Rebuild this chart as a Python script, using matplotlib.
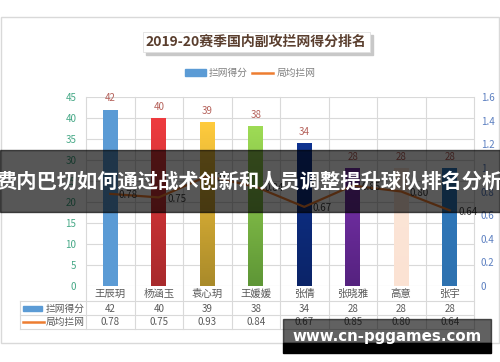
import numpy as np
import matplotlib
matplotlib.use("Agg")
import matplotlib.pyplot as plt
from matplotlib.patches import Rectangle, Patch
from matplotlib.lines import Line2D
from matplotlib.colors import LinearSegmentedColormap

plt.rcParams['font.family'] = ['Noto Sans CJK SC', 'DejaVu Sans']

# Data
players = ["王辰玥", "杨涵玉", "袁心玥", "王媛媛", "张倩", "张晓雅", "高意", "张宇"]
block_points = [42, 40, 39, 38, 34, 28, 28, 28]
block_avg = [0.78, 0.75, 0.93, 0.84, 0.67, 0.85, 0.80, 0.64]
avg_labels = ["0.78", "0.75", "0.93", "0.84", "0.67", "0.85", "0.80", "0.64"]
left_ticks = list(range(0, 50, 5))
right_ticks = [0, 0.2, 0.4, 0.6, 0.8, 1.0, 1.2, 1.4, 1.6]
right_tick_labels = ["0", "0.2", "0.4", "0.6", "0.8", "1", "1.2", "1.4", "1.6"]

# bar colours (top, bottom) for the gradient fill
bar_top = ["#5B9BD5", "#EE3B3F", "#FFCB3D", "#9EDB55", "#0F3390", "#7A32AE", "#FCE6D8", "#2E78BC"]
bar_bot = ["#5B9BD5", "#A82A2C", "#A98A2A", "#5E9636", "#0B2468", "#55227F", "#FBE2D3", "#2E72B0"]

W, H = 500, 362
fig = plt.figure(figsize=(5, 3.62), dpi=100)


def fx(x):
    return x / W


def fy(y):
    return 1 - y / H


# outer frame
fig.add_artist(Rectangle((fx(1), fy(343)), fx(498), 326 / H, fill=False,
                         ec="#D9D9D9", lw=1.0, zorder=0))

ax = fig.add_axes([fx(86), fy(286), 388 / W, 189 / H])
x = np.arange(len(players))

bars = ax.bar(x, block_points, width=0.30, color="none", zorder=2)
for i, b in enumerate(bars):
    cmap = LinearSegmentedColormap.from_list("g", [bar_bot[i], bar_top[i]])
    grad = np.linspace(0, 1, 100).reshape(-1, 1)
    im = ax.imshow(grad, cmap=cmap, origin="lower", aspect="auto",
                   extent=[b.get_x(), b.get_x() + b.get_width(), 0, b.get_height()],
                   zorder=2)
    im.set_clip_path(b)
    ax.annotate(str(block_points[i]), (b.get_x() + b.get_width() / 2, b.get_height()),
                xytext=(0, 8), textcoords="offset points", ha="center", va="center",
                fontsize=7, color="#B5615A")

ax.set_xlim(-0.5, len(players) - 0.5)
ax.set_ylim(0, 45)
ax.set_yticks(left_ticks)
ax.tick_params(axis="y", length=0, labelsize=7, labelcolor="#45A886", pad=7)
ax.set_xticks([])
ax.yaxis.grid(True, color="#D9D9D9", lw=0.8)
ax.set_axisbelow(True)
for s in ax.spines.values():
    s.set_visible(False)

# table grid lines
tx = ax.get_xaxis_transform()
t_bottom = (286 - 329) / 189
row_lines = [(286 - 301) / 189, (286 - 315) / 189, t_bottom]
for b in np.arange(-0.5, len(players), 1.0):
    ax.plot([b, b], [1, t_bottom], transform=tx, color="#D9D9D9", lw=0.8, clip_on=False, zorder=1)
left_edge = (20 - 86) / 388
for yl in row_lines:
    ax.plot([left_edge, 1], [yl, yl], transform=ax.transAxes, color="#D9D9D9", lw=0.8, clip_on=False)
ax.plot([left_edge, left_edge], [row_lines[0], t_bottom], transform=ax.transAxes,
        color="#D9D9D9", lw=0.8, clip_on=False)

cat_y = (286 - 294) / 189
row1_y = (286 - 308.5) / 189
row2_y = (286 - 322) / 189
for i, p in enumerate(players):
    ax.text(i, cat_y, p, transform=tx, ha="center", va="center", fontsize=7.5, color="#595959")
    ax.text(i, row1_y, str(block_points[i]), transform=tx, ha="center", va="center", fontsize=7, color="#595959")
    ax.text(i, row2_y, avg_labels[i], transform=tx, ha="center", va="center", fontsize=7, color="#595959")

# table row keys
ax.add_patch(Rectangle(((23 - 86) / 388, row1_y - 0.014), 19 / 388, 0.028, transform=ax.transAxes,
                       color="#5B9BD5", clip_on=False))
ax.plot([(23 - 86) / 388, (44 - 86) / 388], [row2_y, row2_y], transform=ax.transAxes,
        color="#ED7D31", lw=1.8, clip_on=False)
ax.text((46 - 86) / 388, row1_y, "拦网得分", transform=ax.transAxes, ha="left", va="center",
        fontsize=7, color="#595959")
ax.text((46 - 86) / 388, row2_y, "局均拦网", transform=ax.transAxes, ha="left", va="center",
        fontsize=7, color="#595959")

# secondary axis line
ax2 = ax.twinx()
ax2.plot(x, block_avg, color="#ED7D31", lw=1.6, zorder=3)
for i, v in enumerate(block_avg):
    ax2.annotate(avg_labels[i], (i, v), xytext=(6, -1), textcoords="offset points",
                 ha="left", va="center", fontsize=7, color="#404040")
ax2.set_ylim(0, 1.6)
ax2.set_yticks(right_ticks)
ax2.set_yticklabels(right_tick_labels)
ax2.tick_params(axis="y", length=0, labelsize=7, labelcolor="#5B7FC0", pad=5)
for s in ax2.spines.values():
    s.set_visible(False)

# title with box and shadow
fig.add_artist(Rectangle((fx(146), fy(55)), fx(227), 20 / H, color="#C8C8C8", zorder=2))
fig.add_artist(Rectangle((fx(143), fy(52)), fx(227), 20 / H, fc="white", ec="#E0E0E0", lw=0.6, zorder=3))
fig.text(fx(256), fy(42), "2019-20赛季国内副攻拦网得分排名", ha="center", va="center",
         fontsize=10, fontweight="bold", color="#5A3E2E", zorder=4)

# legend
handles = [Patch(color="#5B9BD5"), Line2D([], [], color="#ED7D31", lw=1.8)]
fig.legend(handles, ["拦网得分", "局均拦网"], loc="center", bbox_to_anchor=(fx(250), fy(73)),
           ncol=2, frameon=False, fontsize=7, labelcolor="#7F7F7F", handlelength=2.2,
           handleheight=0.6, columnspacing=0.4, handletextpad=0.3)

# banner overlay
fig.add_artist(Rectangle((0, fy(212)), 1, 62 / H, color="black", alpha=0.66, zorder=5))
fig.text(fx(249), fy(181), "费内巴切如何通过战术创新和人员调整提升球队排名分析", ha="center", va="center",
         fontsize=14.6, color="white", fontweight="bold", zorder=6)

# watermark
fig.add_artist(Rectangle((fx(283), fy(343)), fx(208), 24 / H, color="black", alpha=0.62, zorder=5))
fig.add_artist(Rectangle((fx(283), fy(353)), fx(208), 10 / H, color="black", zorder=5))
fig.text(fx(387), fy(337), "www.cn-pggames.com", ha="center", va="center",
         fontsize=10.8, color="white", fontweight="bold", family="DejaVu Sans", zorder=6)

fig.savefig("out.png", dpi=100)
